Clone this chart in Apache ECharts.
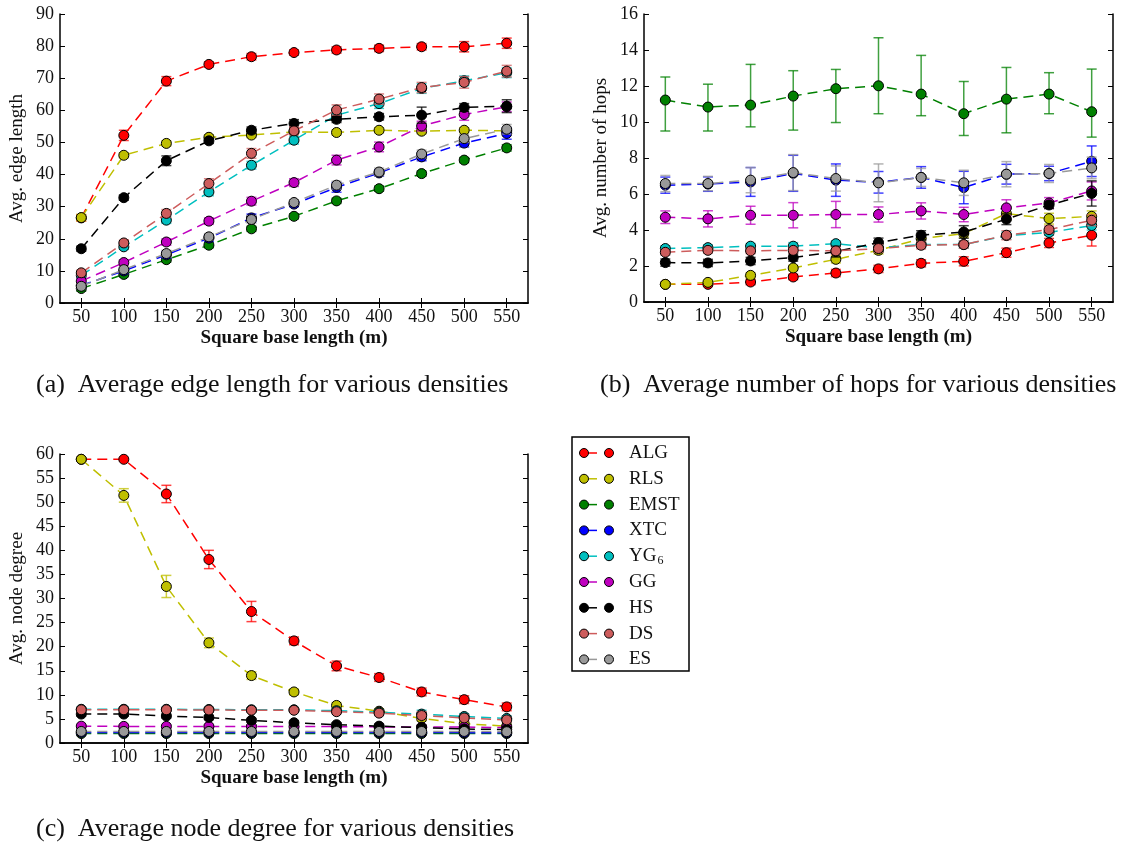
<!DOCTYPE html>
<html>
<head>
<meta charset="utf-8">
<script src="https://cdn.jsdelivr.net/npm/echarts@6/dist/echarts.min.js"></script>
<style>
  html, body { margin: 0; padding: 0; background: #fff; }
  #chart { width: 1127px; height: 842px; }
</style>
</head>
<body>
<div id="chart"></div>
<script>
// Square base lengths (m) on the x axis of every panel
const baseLengths = ['50', '100', '150', '200', '250', '300', '350', '400', '450', '500', '550'];
const algoNames = ['ALG', 'RLS', 'EMST', 'XTC', 'YG6', 'GG', 'HS', 'DS', 'ES'];
const algoColors = ['#ff0000', '#bfbf00', '#008000', '#0000ff', '#00bfbf', '#bf00bf', '#000000', '#cd5c5c', '#999999'];

// (a) average edge length
const edgeALG  = [26.5, 52.2, 69.1, 74.3, 76.7, 78.0, 78.8, 79.3, 79.8, 79.8, 80.9];
const edgeRLS  = [26.6, 46.0, 49.7, 51.6, 52.3, 53.3, 53.1, 53.8, 53.5, 53.8, 53.6];
const edgeEMST = [4.5, 8.9, 13.5, 18.0, 23.1, 27.0, 31.8, 35.6, 40.3, 44.5, 48.3];
const edgeXTC  = [5.5, 10.0, 15.0, 20.2, 26.5, 30.8, 36.0, 40.5, 45.5, 49.8, 52.8];
const edgeYG6  = [8.6, 17.5, 25.8, 34.6, 42.9, 50.7, 58.5, 62.1, 66.8, 69.2, 71.7];
const edgeGG   = [6.8, 12.6, 19.0, 25.5, 31.7, 37.5, 44.5, 48.6, 55.1, 58.7, 61.1];
const edgeHS   = [16.9, 32.8, 44.3, 50.5, 53.8, 55.9, 57.2, 58.0, 58.5, 60.9, 61.3];
const edgeDS   = [9.4, 18.7, 27.9, 37.2, 46.6, 53.6, 60.1, 63.5, 67.1, 68.7, 72.2];
const edgeES   = [5.2, 10.4, 15.4, 20.6, 26.0, 31.3, 36.7, 40.8, 46.4, 51.2, 54.1];

const edgeALGErr  = [1.0, 1.6, 1.4, 0.8, 1.0, 0.8, 1.0, 1.0, 1.0, 1.6, 1.6];
const edgeRLSErr  = [1.0, 0.8, 0.8, 0.8, 0.8, 0.6, 0.8, 0.8, 0.8, 0.8, 0.8];
const edgeEMSTErr = [0.8, 0.7, 0.8, 0.8, 0.8, 0.8, 0.8, 0.8, 0.8, 0.8, 1.0];
const edgeXTCErr  = [0.8, 0.8, 1.0, 1.0, 1.2, 0.8, 1.5, 1.0, 1.2, 1.2, 1.8];
const edgeYG6Err  = [0.8, 0.8, 1.0, 1.2, 1.2, 1.2, 1.5, 1.5, 1.5, 1.5, 1.5];
const edgeGGErr   = [0.8, 0.8, 1.0, 1.0, 1.2, 1.2, 1.5, 1.5, 1.5, 1.8, 1.5];
const edgeHSErr   = [0.8, 0.8, 1.5, 0.8, 1.0, 1.2, 1.0, 1.0, 2.5, 1.2, 2.0];
const edgeDSErr   = [0.8, 0.8, 1.2, 1.5, 1.5, 1.2, 1.6, 1.6, 1.6, 1.8, 1.8];
const edgeESErr   = [0.8, 0.8, 1.0, 1.0, 1.2, 0.8, 1.2, 1.2, 1.2, 1.2, 1.5];

// (b) average number of hops
const hopsALG  = [0.98, 0.98, 1.11, 1.39, 1.61, 1.84, 2.15, 2.26, 2.74, 3.28, 3.71];
const hopsRLS  = [0.98, 1.09, 1.48, 1.89, 2.37, 2.87, 3.52, 3.80, 4.91, 4.63, 4.76];
const hopsEMST = [11.22, 10.83, 10.94, 11.44, 11.85, 12.01, 11.55, 10.46, 11.27, 11.55, 10.57];
const hopsXTC  = [6.49, 6.55, 6.67, 7.15, 6.77, 6.65, 6.92, 6.36, 7.10, 7.14, 7.82];
const hopsYG6  = [2.97, 3.02, 3.10, 3.10, 3.24, 3.00, 3.20, 3.19, 3.69, 3.86, 4.25];
const hopsGG   = [4.71, 4.62, 4.82, 4.82, 4.86, 4.86, 5.06, 4.86, 5.23, 5.50, 6.17];
const hopsHS   = [2.19, 2.17, 2.28, 2.47, 2.80, 3.30, 3.71, 3.89, 4.60, 5.39, 6.03];
const hopsDS   = [2.76, 2.87, 2.84, 2.87, 2.84, 2.97, 3.15, 3.19, 3.71, 4.02, 4.54];
const hopsES   = [6.58, 6.58, 6.77, 7.19, 6.86, 6.62, 6.92, 6.62, 7.10, 7.14, 7.45];

const hopsALGErr  = [0.1, 0.1, 0.15, 0.15, 0.2, 0.2, 0.2, 0.25, 0.25, 0.25, 0.6];
const hopsRLSErr  = [0.1, 0.1, 0.15, 0.15, 0.2, 0.2, 0.2, 0.2, 0.35, 0.3, 0.3];
const hopsEMSTErr = [[1.72, 1.28], [1.33, 1.27], [1.21, 2.26], [1.89, 1.41], [1.88, 1.07], [1.55, 2.67],
                     [1.20, 2.15], [1.21, 1.79], [1.87, 1.76], [1.09, 1.19], [1.41, 2.37]];
const hopsXTCErr  = [0.45, 0.4, 0.8, 1.0, 0.9, 0.6, 0.6, 0.9, 0.55, 0.4, 0.85];
const hopsYG6Err  = [0.15, 0.15, 0.15, 0.2, 0.15, 0.15, 0.15, 0.2, 0.2, 0.15, 0.25];
const hopsGGErr   = [0.35, 0.45, 0.5, 0.7, 0.73, 0.42, 0.45, 0.4, 0.45, 0.3, 0.5];
const hopsHSErr   = [0.2, 0.2, 0.2, 0.2, 0.3, 0.25, 0.25, 0.35, 0.3, 0.2, 0.7];
const hopsDSErr   = [0.15, 0.15, 0.15, 0.15, 0.2, 0.2, 0.2, 0.2, 0.25, 0.2, 0.3];
const hopsESErr   = [0.45, 0.4, 0.7, 1.0, 0.7, 1.05, 0.5, 0.7, 0.7, 0.5, 0.6];

// (c) average node degree
const degALG  = [58.9, 58.9, 51.7, 38.1, 27.3, 21.2, 16.0, 13.6, 10.6, 9.0, 7.5];
const degRLS  = [58.9, 51.4, 32.5, 20.8, 14.0, 10.6, 7.8, 6.6, 5.1, 4.0, 3.5];
const degEMST = [1.96, 1.97, 1.97, 1.97, 1.97, 1.97, 1.97, 1.97, 1.97, 1.97, 1.97];
const degXTC  = [2.2, 2.2, 2.2, 2.2, 2.2, 2.2, 2.2, 2.2, 2.2, 2.15, 2.15];
const degYG6  = [7.0, 7.0, 7.0, 6.95, 6.9, 6.9, 6.7, 6.4, 6.0, 5.5, 5.1];
const degGG   = [3.5, 3.45, 3.45, 3.45, 3.45, 3.4, 3.4, 3.35, 3.3, 3.3, 3.2];
const degHS   = [6.0, 6.0, 5.6, 5.3, 4.7, 4.2, 3.8, 3.5, 3.2, 2.9, 2.8];
const degDS   = [6.9, 6.9, 6.9, 6.85, 6.8, 6.8, 6.5, 6.2, 5.7, 5.2, 4.8];
const degES   = [2.4, 2.4, 2.4, 2.4, 2.4, 2.4, 2.4, 2.4, 2.4, 2.4, 2.35];

const degALGErr  = [0.3, 0.3, 1.8, 1.9, 2.1, 0.8, 1.0, 0.8, 0.8, 0.8, 0.8];
const degRLSErr  = [0.3, 1.4, 2.3, 1.0, 0.8, 0.6, 0.6, 0.5, 0.5, 0.5, 0.4];
const degEMSTErr = [0.3, 0.3, 0.3, 0.3, 0.3, 0.3, 0.3, 0.3, 0.3, 0.3, 0.3];
const degXTCErr  = [0.3, 0.3, 0.3, 0.3, 0.3, 0.3, 0.3, 0.3, 0.3, 0.3, 0.3];
const degYG6Err  = [0.4, 0.4, 0.4, 0.4, 0.4, 0.4, 0.4, 0.5, 0.8, 0.6, 0.5];
const degGGErr   = [0.3, 0.3, 0.3, 0.3, 0.3, 0.3, 0.3, 0.3, 0.4, 0.4, 0.4];
const degHSErr   = [0.4, 0.4, 0.4, 0.4, 0.4, 0.4, 0.4, 0.4, 0.5, 0.5, 0.5];
const degDSErr   = [0.4, 0.4, 0.4, 0.4, 0.4, 0.4, 0.4, 0.5, 0.8, 0.6, 0.5];
const degESErr   = [0.3, 0.3, 0.3, 0.3, 0.3, 0.3, 0.3, 0.3, 0.3, 0.3, 0.3];

const SERIF = "'Liberation Serif', 'DejaVu Serif', serif";
const TEXT = '#111';

const panels = [
  {
    grid: { left: 60, top: 14, width: 468, height: 289 },
    yName: 'Avg. edge length', yMax: 90, yStep: 10,
    values: [edgeALG, edgeRLS, edgeEMST, edgeXTC, edgeYG6, edgeGG, edgeHS, edgeDS, edgeES],
    errors: [edgeALGErr, edgeRLSErr, edgeEMSTErr, edgeXTCErr, edgeYG6Err, edgeGGErr, edgeHSErr, edgeDSErr, edgeESErr]
  },
  {
    grid: { left: 644, top: 14, width: 469, height: 288 },
    yName: 'Avg. number of hops', yMax: 16, yStep: 2,
    values: [hopsALG, hopsRLS, hopsEMST, hopsXTC, hopsYG6, hopsGG, hopsHS, hopsDS, hopsES],
    errors: [hopsALGErr, hopsRLSErr, hopsEMSTErr, hopsXTCErr, hopsYG6Err, hopsGGErr, hopsHSErr, hopsDSErr, hopsESErr]
  },
  {
    grid: { left: 60, top: 454, width: 468, height: 289 },
    yName: 'Avg. node degree', yMax: 60, yStep: 5,
    values: [degALG, degRLS, degEMST, degXTC, degYG6, degGG, degHS, degDS, degES],
    errors: [degALGErr, degRLSErr, degEMSTErr, degXTCErr, degYG6Err, degGGErr, degHSErr, degDSErr, degESErr]
  }
];

const grids = [], xAxes = [], yAxes = [], series = [];
const frameLine = { show: true, lineStyle: { color: '#000', width: 1.5 } };
const inTicks = { show: true, inside: true, length: 5, lineStyle: { color: '#000', width: 1 } };

panels.forEach((p, g) => {
  grids.push(Object.assign({ containLabel: false }, p.grid));
  // bottom axis with labels, top axis mirrors the ticks
  xAxes.push({
    type: 'category', gridIndex: g, data: baseLengths, boundaryGap: true, position: 'bottom',
    axisLine: frameLine, axisTick: Object.assign({ alignWithLabel: true }, inTicks),
    axisLabel: { color: TEXT, fontFamily: SERIF, fontSize: 18, margin: 5 },
    name: 'Square base length (m)', nameLocation: 'middle', nameGap: 26,
    nameTextStyle: { color: TEXT, fontFamily: SERIF, fontSize: 19, fontWeight: 'bold' },
    splitLine: { show: false }
  });
  xAxes.push({
    type: 'category', gridIndex: g, data: baseLengths, boundaryGap: true, position: 'top',
    axisLine: frameLine, axisTick: Object.assign({ alignWithLabel: true }, inTicks),
    axisLabel: { show: false }, splitLine: { show: false }
  });
  yAxes.push({
    type: 'value', gridIndex: g, min: 0, max: p.yMax, interval: p.yStep, position: 'left',
    axisLine: frameLine, axisTick: inTicks,
    axisLabel: { color: TEXT, fontFamily: SERIF, fontSize: 18, margin: 6 },
    name: p.yName, nameLocation: 'middle', nameGap: 33, nameRotate: 90,
    nameTextStyle: { color: TEXT, fontFamily: SERIF, fontSize: 19 },
    splitLine: { show: false }
  });
  yAxes.push({
    type: 'value', gridIndex: g, min: 0, max: p.yMax, interval: p.yStep, position: 'right',
    axisLine: frameLine, axisTick: inTicks, axisLabel: { show: false }, splitLine: { show: false }
  });

  p.values.forEach((vals, i) => {
    const color = algoColors[i];
    const errs = p.errors[i];
    const barData = vals.map((v, k) => {
      const e = errs[k];
      const down = Array.isArray(e) ? e[0] : e;
      const up = Array.isArray(e) ? e[1] : e;
      return [k, v, v - down, v + up];
    });
    series.push({
      type: 'custom', name: algoNames[i] + ' error', xAxisIndex: 2 * g, yAxisIndex: 2 * g,
      z: 2 + 2 * i, silent: true, clip: true,
      data: barData,
      encode: { x: 0, y: 1 },
      renderItem: (params, api) => {
        const lo = api.coord([api.value(0), api.value(2)]);
        const hi = api.coord([api.value(0), api.value(3)]);
        const half = 5;
        const st = { stroke: color, lineWidth: 1.5, opacity: 0.75 };
        return {
          type: 'group',
          children: [
            { type: 'line', shape: { x1: lo[0], y1: lo[1], x2: hi[0], y2: hi[1] }, style: st },
            { type: 'line', shape: { x1: hi[0] - half, y1: hi[1], x2: hi[0] + half, y2: hi[1] }, style: st },
            { type: 'line', shape: { x1: lo[0] - half, y1: lo[1], x2: lo[0] + half, y2: lo[1] }, style: st }
          ]
        };
      }
    });
    series.push({
      type: 'line', name: algoNames[i], xAxisIndex: 2 * g, yAxisIndex: 2 * g,
      z: 3 + 2 * i, silent: true, data: vals,
      symbol: 'circle', symbolSize: 10, showAllSymbol: true,
      lineStyle: { color: color, width: 1.5, type: [10, 6] },
      itemStyle: { color: color, borderColor: '#000', borderWidth: 1 }
    });
  });
});

// legend box with the "o- o" sample of every algorithm
const overlay = [];
const legX = 572, legY = 437, legRow = 25.8;
overlay.push({
  type: 'rect', shape: { x: legX, y: legY, width: 117, height: 234 },
  style: { fill: '#fff', stroke: '#000', lineWidth: 1.5 }, z: 100
});
algoNames.forEach((name, i) => {
  const cy = legY + 16 + i * legRow;
  const color = algoColors[i];
  overlay.push({ type: 'line', shape: { x1: legX + 12, y1: cy, x2: legX + 25, y2: cy },
    style: { stroke: color, lineWidth: 1.5 }, z: 101 });
  overlay.push({ type: 'circle', shape: { cx: legX + 12, cy: cy, r: 4.5 },
    style: { fill: color, stroke: '#000', lineWidth: 1 }, z: 102 });
  overlay.push({ type: 'circle', shape: { cx: legX + 37, cy: cy, r: 4.5 },
    style: { fill: color, stroke: '#000', lineWidth: 1 }, z: 102 });
  const label = name === 'YG6' ? '{m|YG}{s|6}' : '{m|' + name + '}';
  overlay.push({ type: 'text', x: legX + 57, y: cy, z: 102,
    style: {
      text: label, fill: TEXT, font: '19px ' + SERIF, verticalAlign: 'middle', align: 'left',
      rich: {
        m: { fontFamily: SERIF, fontSize: 19, fill: TEXT },
        s: { fontFamily: SERIF, fontSize: 12, fill: TEXT, padding: [9, 0, 0, 1] }
      }
    }
  });
});

const captions = [
  { text: '(a)  Average edge length for various densities', x: 36, y: 385 },
  { text: '(b)  Average number of hops for various densities', x: 600, y: 385 },
  { text: '(c)  Average node degree for various densities', x: 36, y: 829 }
];
captions.forEach(c => {
  overlay.push({ type: 'text', x: c.x, y: c.y, z: 100,
    style: { text: c.text, fill: TEXT, font: '26px ' + SERIF, verticalAlign: 'middle', align: 'left' } });
});

const chart = echarts.init(document.getElementById('chart'), null, { renderer: 'canvas' });
chart.setOption({
  animation: false,
  backgroundColor: '#fff',
  grid: grids,
  xAxis: xAxes,
  yAxis: yAxes,
  series: series,
  graphic: overlay
});
</script>
</body>
</html>
